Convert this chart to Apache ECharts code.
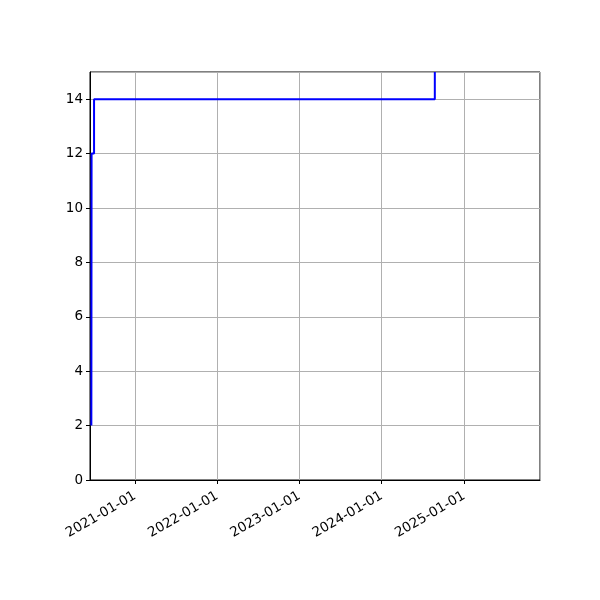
<!DOCTYPE html>
<html>
<head>
<meta charset="utf-8">
<script src="https://cdn.jsdelivr.net/npm/echarts@6/dist/echarts.min.js"></script>
<style>html,body{margin:0;padding:0;background:#fff}#c{width:600px;height:600px}</style>
</head>
<body>
<div id="c"></div>
<script>
// Data (step, value held until the next date)
const dates = ['2020-06-21', '2020-06-22', '2020-07-03', '2024-08-24'];
const values = [2, 12, 14, 15];
const xMin = '2020-06-15';
const xMax = '2025-12-04';
const yTicks = [0, 2, 4, 6, 8, 10, 12, 14];

const chart = echarts.init(document.getElementById('c'), null, {renderer: 'canvas'});
const font = 'DejaVu Sans';
const DAY = 24 * 3600 * 1000;
chart.setOption({
  animation: false,
  backgroundColor: '#fff',
  grid: {left: 90, top: 72, width: 450, height: 408, show: true, borderColor: '#000', borderWidth: 1, backgroundColor: 'transparent'},
  xAxis: {
    type: 'time',
    min: xMin,
    max: xMax,
    minInterval: 365 * DAY,
    maxInterval: 366 * DAY,
    axisLine: {show: true, lineStyle: {color: '#000', width: 1}},
    axisTick: {show: true, inside: false, length: 4, lineStyle: {color: '#000'}},
    minorTick: {show: false},
    splitLine: {show: true, lineStyle: {color: '#b0b0b0', width: 1}},
    axisLabel: {
      show: true, rotate: 30, fontFamily: font, fontSize: 13.5, color: '#000', margin: 15,
      showMinLabel: false, showMaxLabel: false,
      formatter: function (v) { return echarts.time.format(v, '{yyyy}-{MM}-{dd}', false); }
    }
  },
  yAxis: {
    type: 'value',
    min: 0, max: 15, interval: 2,
    axisLine: {show: true, lineStyle: {color: '#000', width: 1}},
    axisTick: {show: true, inside: false, length: 4, lineStyle: {color: '#000'}},
    splitLine: {show: true, lineStyle: {color: '#b0b0b0', width: 1}},
    axisLabel: {
      fontFamily: font, fontSize: 13.5, color: '#000', margin: 7, showMaxLabel: false,
      formatter: function (v) { return yTicks.indexOf(v) >= 0 ? String(v) : ''; }
    }
  },
  series: [{
    type: 'line',
    step: 'end',
    data: dates.map((d, i) => [d, values[i]]),
    showSymbol: false,
    symbol: 'none',
    clip: true,
    lineStyle: {color: '#0000ff', width: 2},
    z: 3
  }]
});
</script>
</body>
</html>
